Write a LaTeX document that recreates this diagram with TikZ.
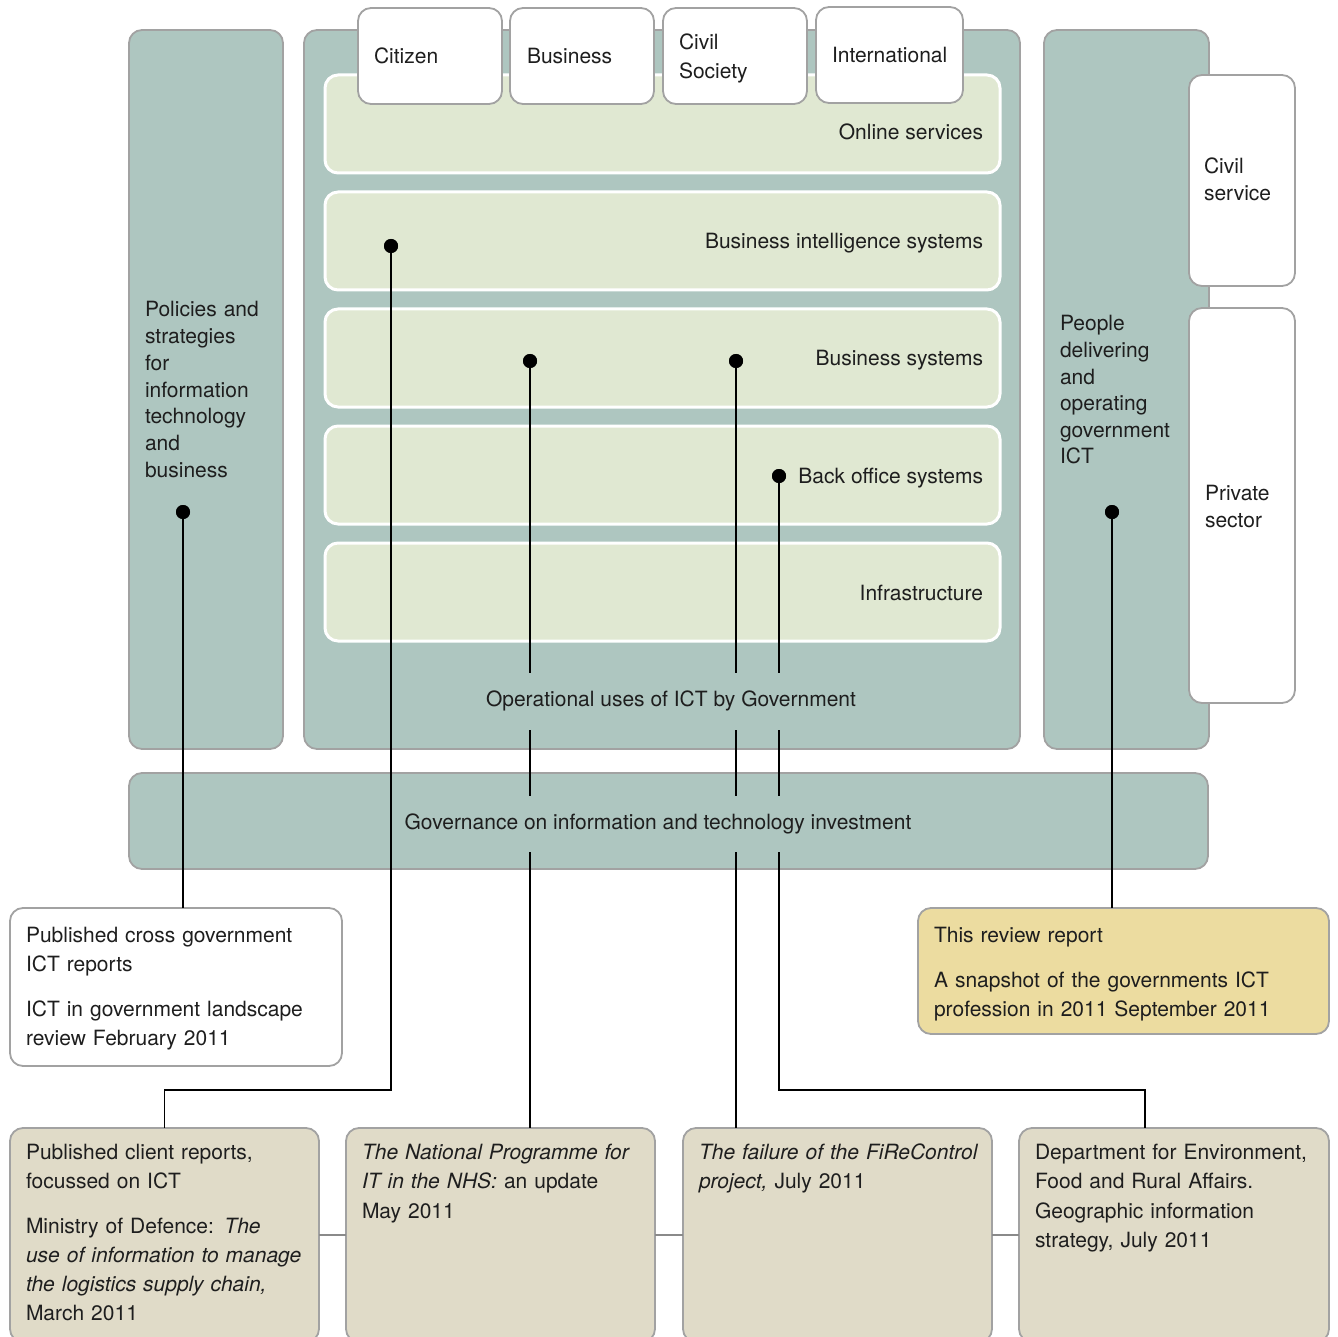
\documentclass[tikz,border=0pt]{standalone}
\usepackage{fontspec}
\setmainfont{TeX Gyre Heros}
\definecolor{colTeal}{HTML}{AEC6C0}
\definecolor{colGreen}{HTML}{E0E8D2}
\definecolor{colTan}{HTML}{E0DBC8}
\definecolor{colYellow}{HTML}{ECDCA0}
\definecolor{colEdge}{HTML}{A2A2A2}
\definecolor{colText}{HTML}{1E1E1E}
\begin{document}
\begin{tikzpicture}[x=1pt,y=-1pt,
  panel/.style={draw=colEdge, line width=1.8pt, fill=colTeal, rounded corners=13pt, inner sep=0pt, outer sep=0pt, anchor=north west},
  band/.style={draw=white, line width=3pt, fill=colGreen, rounded corners=13pt, inner sep=0pt, outer sep=0pt, anchor=north west},
  card/.style={draw=colEdge, line width=1.8pt, fill=white, rounded corners=13pt, inner sep=0pt, outer sep=0pt, anchor=north west},
  tanbox/.style={card, fill=colTan},
  yelbox/.style={card, fill=colYellow},
  txt/.style={inner sep=0pt, outer sep=0pt, text=colText, font=\fontsize{21}{29}\selectfont},
  para/.style={txt, anchor=base west, align=left, text width=330pt},
  rlabel/.style={txt, anchor=base east},
  gap/.style={txt, fill=colTeal, inner xsep=3pt, anchor=center},
  conn/.style={draw=black, line width=1.8pt},
  link/.style={draw=colEdge!85!black, line width=1.8pt},
  dot/.style={circle, fill=black, inner sep=0pt, minimum size=14pt}
]
\useasboundingbox (0,0) rectangle (1338,1337);
\clip (0,0) rectangle (1338,1337);

% main panels
\node[panel, minimum width=154, minimum height=719] (leftcol) at (129,30) {};
\node[panel, minimum width=716, minimum height=719] (centre) at (304,30) {};
\node[panel, minimum width=165, minimum height=719] (rightcol) at (1044,30) {};
\node[panel, minimum width=1079, minimum height=96] (gov) at (129,773) {};

% bands
\node[band, minimum width=675, minimum height=98] (b1) at (325,75) {};
\node[band, minimum width=675, minimum height=98] (b2) at (325,192) {};
\node[band, minimum width=675, minimum height=98] (b3) at (325,309) {};
\node[band, minimum width=675, minimum height=98] (b4) at (325,426) {};
\node[band, minimum width=675, minimum height=98] (b5) at (325,543) {};

% tabs
\node[card, minimum width=144, minimum height=96] (t1) at (358,8) {};
\node[card, minimum width=144, minimum height=96] (t2) at (510,8) {};
\node[card, minimum width=144, minimum height=96] (t3) at (663,8) {};
\node[card, minimum width=147, minimum height=96] (t4) at (816,7) {};

% right side cards
\node[card, minimum width=106, minimum height=211] (cs) at (1189,75) {};
\node[card, minimum width=106, minimum height=395] (ps) at (1189,308) {};

% lower boxes
\node[card, minimum width=332, minimum height=158] (crossgov) at (10,908) {};
\node[yelbox, minimum width=411, minimum height=126] (review) at (918,908) {};
\node[tanbox, minimum width=309, minimum height=214] (client) at (10,1128) {};
\node[tanbox, minimum width=309, minimum height=214] (nhs) at (346,1128) {};
\node[tanbox, minimum width=309, minimum height=214] (fire) at (683,1128) {};
\node[tanbox, minimum width=310, minimum height=214] (defra) at (1019,1128) {};

% grey links between bottom boxes
\draw[link] (client.east) -- (nhs.west);
\draw[link] (nhs.east) -- (fire.west);
\draw[link] (fire.east) -- (defra.west);

% texts
\node[para, text width=130pt, font=\fontsize{21}{26.7}\selectfont] (leftlbl) at (145,317) {Policies and\\strategies\\for\\information\\technology\\and\\business};
\node[para, text width=140pt, font=\fontsize{21}{26.6}\selectfont] (rightlbl) at (1060,331) {People\\delivering\\and\\operating\\government\\ICT};
\node[para, text width=90pt, font=\fontsize{21}{27}\selectfont] (cslbl) at (1204,174) {Civil\\service};
\node[para, text width=90pt, font=\fontsize{21}{27}\selectfont] (pslbl) at (1205,500) {Private\\sector};
\node[para, text width=130pt] (t1lbl) at (374,64) {Citizen};
\node[para, text width=130pt] (t2lbl) at (527,64) {Business};
\node[para, text width=130pt] (t3lbl) at (679,50) {Civil\\Society};
\node[para, text width=130pt] (t4lbl) at (832,63) {International};

\node[rlabel] (b1lbl) at (983,140) {Online services};
\node[rlabel] (b2lbl) at (983,249) {Business intelligence systems};
\node[rlabel] (b3lbl) at (983,366) {Business systems};
\node[rlabel] (b4lbl) at (983,483) {Back office systems};
\node[rlabel] (b5lbl) at (983,600) {Infrastructure};

% dots
\node[dot] (d1) at (183,512) {};
\node[dot] (d2) at (391,246) {};
\node[dot] (d3) at (530,361) {};
\node[dot] (d4) at (736,361) {};
\node[dot] (d5) at (779,476) {};
\node[dot] (d6) at (1112,512) {};
\coordinate (bus) at (0,1090);
\coordinate (defraIn) at (1145,1128);

% connectors
\draw[conn] (d1) -- (d1 |- crossgov.north);
\draw[conn] (d2) -- (d2 |- bus) -| (client.north);
\draw[conn] (d3) -- (d3 |- nhs.north);
\draw[conn] (d4) -- (d4 |- fire.north);
\draw[conn] (d5) -- (d5 |- bus) -| (defraIn);
\draw[conn] (d6) -- (d6 |- review.north);

% labels interrupting the connectors
\node[gap, minimum height=57] (oplbl) at (671,701) {Operational uses of ICT by Government};
\node[gap, minimum height=56, inner xsep=2pt] (govlbl) at (658,824) {Governance on information and technology investment};

% redraw dots on top
\node[dot] at (d1) {};
\node[dot] at (d2) {};
\node[dot] at (d3) {};
\node[dot] at (d4) {};
\node[dot] at (d5) {};
\node[dot] at (d6) {};

% box texts
\node[para] (cghead) at (26,942) {Published cross government\\ICT reports};
\node[para] (cgbody) at (26,1016) {ICT in government landscape\\review February 2011};
\node[para, text width=400pt] (rvhead) at (934,942) {This review report};
\node[para, text width=400pt] (rvbody) at (934,987) {A snapshot of the governments ICT\\profession in 2011 September 2011};
\node[para] (clhead) at (26,1159) {Published client reports,\\focussed on ICT};
\node[para] (clbody) at (26,1233) {Ministry of Defence: \textit{The}\\\textit{use of information to manage}\\\textit{the logistics supply chain,}\\March 2011};
\node[para, font=\fontsize{21}{29.5}\selectfont] (nhslbl) at (362,1159) {\textit{The National Programme for}\\\textit{IT in the NHS:} an update\\May 2011};
\node[para] (firelbl) at (699,1159) {\textit{The failure of the FiReControl}\\\textit{project,} July 2011};
\node[para, font=\fontsize{21}{29.5}\selectfont] (defralbl) at (1035,1159) {Department for Environment,\\Food and Rural Affairs.\\Geographic information\\strategy, July 2011};
\end{tikzpicture}
\end{document}
